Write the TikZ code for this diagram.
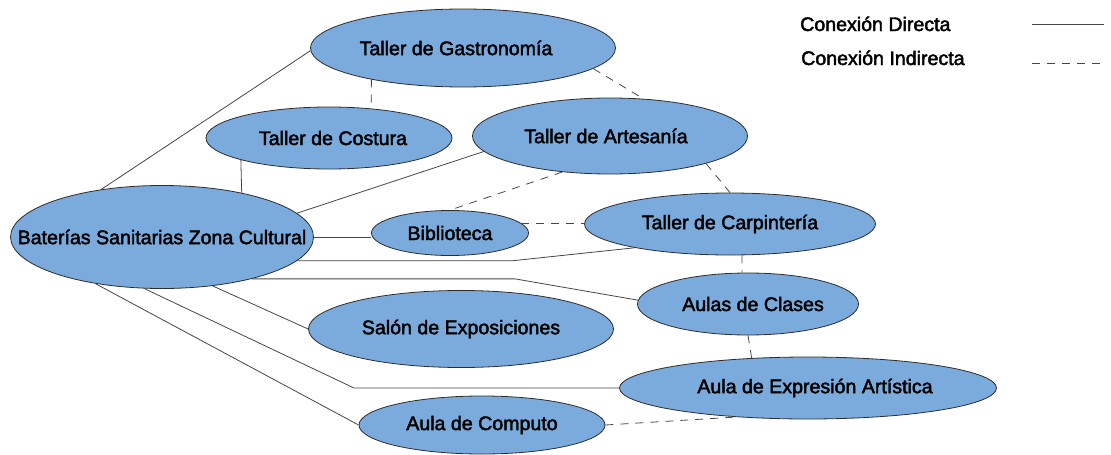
\documentclass[tikz,border=0pt]{standalone}
\usepackage{fontspec}
\setmainfont[FakeBold=2.2]{Liberation Sans}
\usetikzlibrary{shapes.geometric}
\definecolor{relleno}{RGB}{122,171,220}
\definecolor{borde}{RGB}{45,45,45}
\definecolor{linea}{RGB}{70,70,70}
\tikzset{
  zona/.style={ellipse,draw=borde,fill=relleno,line width=0.8pt,inner sep=0pt},
  directa/.style={draw=linea,line width=0.8pt},
  indirecta/.style={draw=linea,line width=0.8pt,dash pattern=on 8pt off 7pt}
}
\begin{document}
\begin{tikzpicture}[x=1pt,y=-1pt,font=\fontsize{19.6}{23}\selectfont]
  \useasboundingbox (0,0) rectangle (1111,455);

  % zonas
  \node[zona,minimum width=305pt,minimum height=78pt,label={[xshift=-7pt]center:Taller de Gastronomía}] (gastro) at (463,48) {};
  \node[zona,minimum width=246pt,minimum height=62pt,label={[xshift=4pt]center:Taller de Costura}] (costura) at (329,138) {};
  \node[zona,minimum width=275pt,minimum height=76pt,label={[xshift=-4pt]center:Taller de Artesanía}] (artes) at (610,136) {};
  \node[zona,minimum width=303pt,minimum height=103pt,label=center:Baterías Sanitarias Zona Cultural] (bat) at (162,237) {};
  \node[zona,minimum width=157pt,minimum height=45pt,label=center:Biblioteca] (biblio) at (450,233) {};
  \node[zona,minimum width=291pt,minimum height=62pt,label=center:Taller de Carpintería] (carp) at (730,224) {};
  \node[zona,minimum width=221pt,minimum height=62pt,label={[xshift=5pt]center:Aulas de Clases}] (aulas) at (748,304) {};
  \node[zona,minimum width=305pt,minimum height=77pt,label=center:Salón de Exposiciones] (salon) at (461,329) {};
  \node[zona,minimum width=377pt,minimum height=62pt,label={[xshift=7pt]center:Aula de Expresión Artística}] (expr) at (808,388) {};
  \node[zona,minimum width=246pt,minimum height=58pt,label=center:Aula de Computo] (compu) at (482,425) {};

  % codos de las conexiones
  \coordinate (codo1) at (512,261);
  \coordinate (codo2) at (515,279);
  \coordinate (codo3) at (354,388);

  % conexiones directas
  \draw[directa] (bat.142) -- (gastro.181);
  \draw[directa] (costura.194) -- (bat.29);
  \draw[directa] (bat.10) -- (artes.187);
  \draw[directa] (bat.east) -- (bat.east -| biblio.west);
  \draw[directa] (bat.350) -- (bat.350 -| codo1) -- (carp.194);
  \draw[directa] (bat.335) -- (bat.335 -| codo2) -- (aulas.178);
  \draw[directa] (bat.316) -- (salon.west);
  \draw[directa] (bat.251) -- (codo3 |- expr.west) -- (expr.west);
  \draw[directa] (bat.215) -- (compu.west);

  % conexiones indirectas
  \draw[indirecta] (gastro.199) -- (costura.35);
  \draw[indirecta] (gastro.351) -- (artes.48);
  \draw[indirecta] (artes.344) -- (carp.north);
  \draw[indirecta] (artes.217) -- (biblio.north);
  \draw[indirecta] (biblio.8) -- (biblio.8 -| carp.west);
  \draw[indirecta] (carp.291) -- (aulas.101);
  \draw[indirecta] (aulas.south) -- (expr.152);
  \draw[indirecta] (compu.east) -- (expr.202);

  % leyenda
  \node[anchor=base west,inner sep=0pt] (leydir) at (800,31) {Conexión Directa};
  \node[anchor=base west,inner sep=0pt] (leyind) at (801,65) {Conexión Indirecta};
  \coordinate (dir1) at (1032,24);
  \coordinate (dir2) at (1104,24);
  \coordinate (ind1) at (1032,63);
  \coordinate (ind2) at (1104,63);
  \draw[directa] (dir1) -- (dir2);
  \draw[indirecta] (ind1) -- (ind2);
\end{tikzpicture}
\end{document}
